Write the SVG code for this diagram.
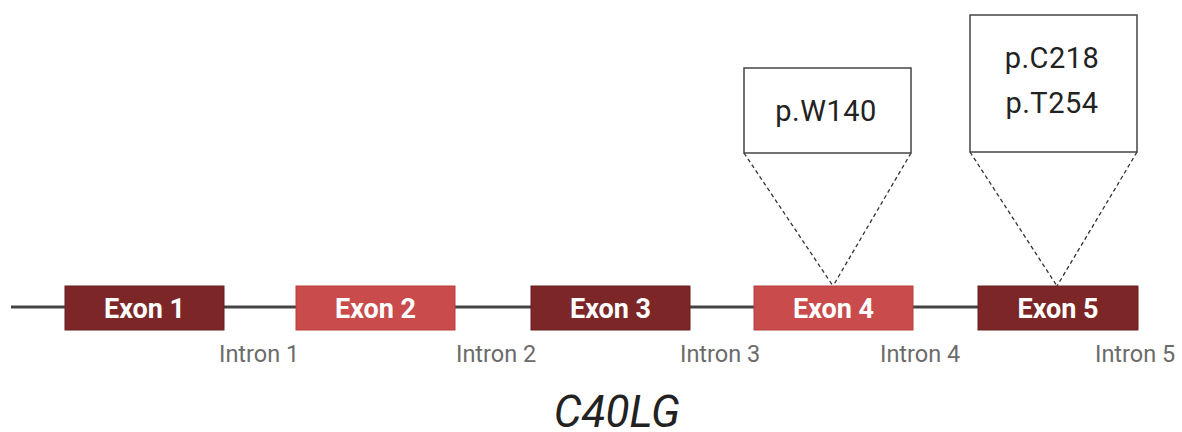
<svg xmlns="http://www.w3.org/2000/svg" width="1182" height="432" viewBox="0 0 1182 432">
  <style>
    .exon-dark { fill: #7c2627; stroke: #6a1f20; stroke-width: 1; }
    .exon-light { fill: #c94b4c; stroke: #b53f40; stroke-width: 1; }
    .exon-label { font-family: Roboto, "Liberation Sans", sans-serif; font-weight: bold; font-size: 27px; fill: #ffffff; text-anchor: middle; }
    .intron-label { font-family: Roboto, "Liberation Sans", sans-serif; font-size: 23.5px; fill: #6b6b6b; }
    .callout { fill: #ffffff; stroke: #444444; stroke-width: 1.5; }
    .callout-label { font-family: Roboto, "Liberation Sans", sans-serif; font-size: 29px; letter-spacing: 0.5px; fill: #222222; text-anchor: middle; }
    .dash { stroke: #333333; stroke-width: 1.3; stroke-dasharray: 4 3; fill: none; }
    .gene-name { font-family: Roboto, "Liberation Sans", sans-serif; font-style: italic; font-size: 44px; fill: #222222; text-anchor: middle; }
  </style>

  <!-- backbone and zoom-in connectors -->
  <g id="connectors">
    <line x1="11" y1="307" x2="978" y2="307" stroke="#444444" stroke-width="3"/>
    <line class="dash" x1="744" y1="153" x2="833" y2="286"/>
    <line class="dash" x1="911" y1="153" x2="833" y2="286"/>
    <line class="dash" x1="970" y1="152" x2="1057" y2="286"/>
    <line class="dash" x1="1137" y1="152" x2="1057" y2="286"/>
  </g>

  <g id="exon1">
    <rect class="exon-dark" x="65" y="286" width="159" height="44"/>
    <text class="exon-label" x="144.5" y="318">Exon 1</text>
  </g>
  <g id="exon2">
    <rect class="exon-light" x="296" y="286" width="159" height="44"/>
    <text class="exon-label" x="375.5" y="318">Exon 2</text>
  </g>
  <g id="exon3">
    <rect class="exon-dark" x="531" y="286" width="159" height="44"/>
    <text class="exon-label" x="610.5" y="318">Exon 3</text>
  </g>
  <g id="exon4">
    <rect class="exon-light" x="754" y="286" width="159" height="44"/>
    <text class="exon-label" x="833.5" y="318">Exon 4</text>
  </g>
  <g id="exon5">
    <rect class="exon-dark" x="978" y="286" width="160" height="44"/>
    <text class="exon-label" x="1058" y="318">Exon 5</text>
  </g>

  <g id="introns">
    <text class="intron-label" x="219" y="362">Intron 1</text>
    <text class="intron-label" x="456" y="362">Intron 2</text>
    <text class="intron-label" x="680" y="362">Intron 3</text>
    <text class="intron-label" x="880" y="362">Intron 4</text>
    <text class="intron-label" x="1095" y="362">Intron 5</text>
  </g>

  <g id="variant-w140">
    <rect class="callout" x="744" y="68" width="167" height="85"/>
    <text class="callout-label" x="826" y="121">p.W140</text>
  </g>
  <g id="variant-c218-t254">
    <rect class="callout" x="970" y="15" width="167" height="137"/>
    <text class="callout-label" x="1052" y="68">p.C218</text>
    <text class="callout-label" x="1052" y="113">p.T254</text>
  </g>

  <g id="gene">
    <text class="gene-name" x="617" y="427">C40LG</text>
  </g>
</svg>
